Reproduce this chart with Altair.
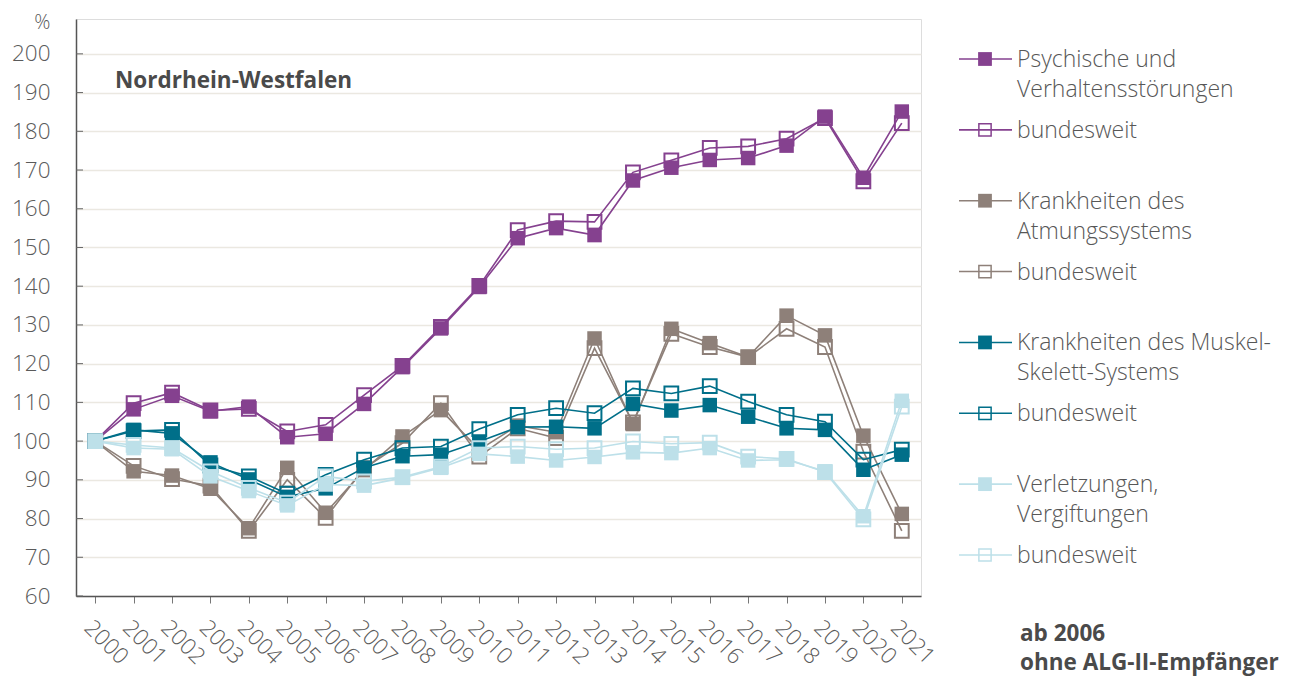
import altair as alt
import pandas as pd

years = list(range(2000, 2022))

psych_nrw = [100, 108.2, 111.7, 107.7, 108.9, 101.0, 101.9, 109.6, 119.1, 129.1, 139.8,
             152.4, 155.0, 153.2, 167.3, 170.6, 172.6, 173.1, 176.3, 183.8, 168.0, 185.1]
psych_bund = [100, 109.8, 112.5, 107.9, 108.3, 102.5, 104.2, 111.9, 119.4, 129.5, 140.1,
              154.5, 156.8, 156.6, 169.4, 172.5, 175.7, 176.1, 178.1, 183.4, 167.1, 182.1]
atm_nrw = [100, 92.2, 91.1, 87.7, 77.5, 93.1, 81.5, 92.5, 101.2, 108.0, 97.8,
           104.0, 102.3, 126.5, 104.4, 129.0, 125.3, 121.7, 132.4, 127.3, 101.4, 81.2]
atm_bund = [100, 93.6, 90.2, 88.5, 76.8, 90.0, 80.2, 93.0, 99.5, 109.8, 96.0,
            103.3, 100.8, 124.0, 104.8, 127.7, 124.3, 121.7, 129.0, 124.3, 97.3, 76.8]
musk_nrw = [100, 102.9, 102.0, 94.5, 90.1, 85.6, 87.8, 93.1, 96.1, 96.5, 99.9,
            103.6, 103.7, 103.3, 109.6, 107.9, 109.3, 106.3, 103.3, 102.9, 92.6, 96.5]
musk_bund = [100, 102.6, 102.9, 93.7, 90.9, 86.4, 91.3, 95.2, 98.2, 98.6, 103.1,
             106.8, 108.5, 107.2, 113.6, 112.3, 114.2, 110.2, 106.8, 105.0, 95.2, 97.8]
verl_nrw = [100, 98.2, 97.9, 90.9, 87.1, 83.4, 88.8, 88.5, 90.5, 93.1, 96.7,
            96.0, 95.0, 95.9, 97.1, 96.9, 98.2, 95.0, 95.2, 92.2, 80.6, 110.4]
verl_bund = [100, 99.0, 98.2, 92.2, 87.9, 84.1, 90.9, 89.6, 90.7, 93.4, 98.2,
             98.6, 97.9, 98.2, 99.9, 99.3, 99.6, 96.0, 95.4, 92.0, 79.8, 108.9]

series_keys = ["psych_bund", "psych_nrw", "atm_bund", "atm_nrw",
               "musk_bund", "musk_nrw", "verl_bund", "verl_nrw"]
series_vals = [psych_bund, psych_nrw, atm_bund, atm_nrw,
               musk_bund, musk_nrw, verl_bund, verl_nrw]
series_filled = [False, True, False, True, False, True, False, True]
series_colors = ["#85418f", "#85418f", "#8e8079", "#8e8079",
                 "#006f89", "#006f89", "#bde0e9", "#bde0e9"]

legend_keys = ["psych_nrw", "psych_bund", "atm_nrw", "atm_bund",
               "musk_nrw", "musk_bund", "verl_nrw", "verl_bund"]
legend_line1 = ["Psychische und", "bundesweit", "Krankheiten des", "bundesweit",
                "Krankheiten des Muskel-", "bundesweit", "Verletzungen,", "bundesweit"]
legend_line2 = ["Verhaltensstörungen", "", "Atmungssystems", "",
                "Skelett-Systems", "", "Vergiftungen", ""]
legend_filled = [True, False, True, False, True, False, True, False]

y_ticks = list(range(60, 201, 10))

FONT = "Open Sans"
TXT = "#575757"
LBL = "#5a5a5a"

rows = []
for k, vals in zip(series_keys, series_vals):
    for yr, v in zip(years, vals):
        rows.append({"series": k, "year": yr, "value": v})
df = pd.DataFrame(rows)

yscale = alt.Scale(domain=[60, 209], nice=False, zero=False)
yaxis = alt.Axis(values=y_ticks, grid=True, gridColor="#ebe8e1", gridWidth=1.5,
                 ticks=False, labelPadding=26, labelFontSize=22.5, labelColor=LBL,
                 labelFont=FONT, labelFontWeight=300,
                 domainColor="#555555", domainWidth=1.5,
                 title="%", titleAngle=0, titleAlign="right", titleBaseline="alphabetic",
                 titleX=-26, titleY=9, titleFontSize=20, titleFontWeight=300,
                 titleColor=LBL, titleFont=FONT)
xaxis = alt.Axis(labelAngle=45, labelAlign="left", labelBaseline="top",
                 labelFontSize=22.5, labelColor=LBL, labelFont=FONT, labelFontWeight=300,
                 labelPadding=13, tickSize=7, tickColor="#777777", tickWidth=1,
                 domainColor="#555555", domainWidth=1.5, grid=False, title=None)
X = alt.X("year:O", scale=alt.Scale(type="point", padding=0.5), axis=xaxis)
Y = alt.Y("value:Q", scale=yscale, axis=yaxis)

layers = []
tick_df = pd.DataFrame({"value": y_ticks})
layers.append(alt.Chart(tick_df).mark_rule(color="#666666", strokeWidth=1).encode(
    y=Y, x=alt.value(0), x2=alt.value(7)))

for k, filled, col in zip(series_keys, series_filled, series_colors):
    base = alt.Chart(df).transform_filter(alt.datum.series == k)
    layers.append(base.mark_line(color=col, strokeWidth=1.6).encode(x=X, y=Y))
    if filled:
        pts = base.mark_point(shape="square", filled=True, fill=col, color=col,
                              size=210, opacity=1, strokeWidth=0)
    else:
        pts = base.mark_point(shape="square", filled=False, color=col,
                              size=190, opacity=1, strokeWidth=2)
    layers.append(pts.encode(x=X, y=Y))

main = alt.layer(*layers)

# legend (drawn beside the plot)
leg_df = pd.DataFrame({"series": legend_keys, "l1": legend_line1, "l2": legend_line2,
                       "filled": legend_filled, "row": list(range(len(legend_keys)))})
col_map = dict(zip(series_keys, series_colors))
color_enc = alt.Color("series:N", scale=alt.Scale(domain=legend_keys,
                      range=[col_map[k] for k in legend_keys]), legend=None)
LY = alt.Y("row:Q", scale=alt.Scale(domain=[0, 7], range=[40, 536]), axis=None)
lbase = alt.Chart(leg_df)
leg_rule = lbase.mark_rule(strokeWidth=1.6).encode(
    y=LY, x=alt.value(883), x2=alt.value(936), color=color_enc)
leg_fill = lbase.transform_filter(alt.datum.filled == True).mark_point(
    shape="square", filled=True, size=190, opacity=1, strokeWidth=0).encode(
    y=LY, x=alt.value(909), color=color_enc)
leg_open = lbase.transform_filter(alt.datum.filled == False).mark_point(
    shape="square", filled=False, size=150, opacity=1, strokeWidth=1.5).encode(
    y=LY, x=alt.value(909), color=color_enc)
leg_t1 = lbase.mark_text(align="left", baseline="middle", dy=1, fontSize=23,
                         fontWeight=300, font=FONT, color=TXT).encode(
    y=LY, x=alt.value(941), text="l1:N")
leg_t2 = lbase.mark_text(align="left", baseline="middle", dy=31, fontSize=23,
                         fontWeight=300, font=FONT, color=TXT).encode(
    y=LY, x=alt.value(941), text="l2:N")

title_txt = ["Nordrhein-Westfalen"]
note_txt = ["ab 2006", "ohne ALG-II-Empfänger"]
t_title = alt.Chart(pd.DataFrame({"t": title_txt})).mark_text(
    align="left", baseline="alphabetic", fontSize=22.5, fontWeight="bold",
    font=FONT, color="#4a4a4a").encode(text="t:N", x=alt.value(39), y=alt.value(68.5))
t_note1 = alt.Chart(pd.DataFrame({"t": note_txt[:1]})).mark_text(
    align="left", baseline="alphabetic", fontSize=22.5, fontWeight="bold",
    font=FONT, color="#4a4a4a").encode(text="t:N", x=alt.value(944), y=alt.value(622))
t_note2 = alt.Chart(pd.DataFrame({"t": note_txt[1:]})).mark_text(
    align="left", baseline="alphabetic", fontSize=22.5, fontWeight="bold",
    font=FONT, color="#4a4a4a").encode(text="t:N", x=alt.value(944), y=alt.value(651))

legend = alt.layer(leg_rule, leg_open, leg_fill, leg_t1, leg_t2, t_title, t_note1, t_note2)

chart = alt.layer(main, legend).resolve_scale(y="independent").properties(
    width=845, height=577,
    autosize=alt.AutoSizeParams(type="none"),
    padding={"left": 68, "top": 11, "right": 363, "bottom": 85},
).configure_view(stroke=None).configure(font=FONT)

chart.save("out.html", embed_options={"renderer": "svg", "actions": False})
